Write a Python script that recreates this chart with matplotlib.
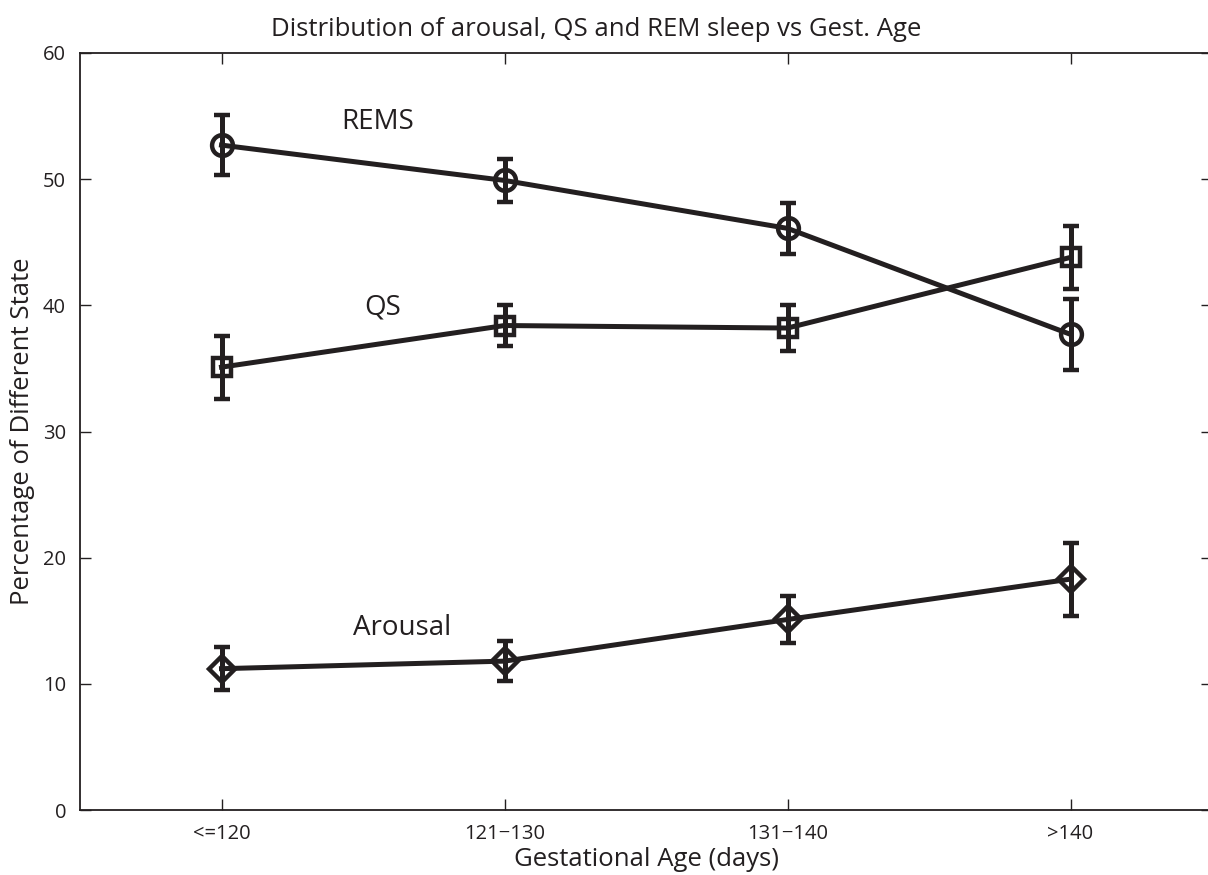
import matplotlib
matplotlib.use("Agg")
import matplotlib.pyplot as plt

plt.rcParams['font.family'] = ['Open Sans', 'DejaVu Sans']

ages = ['<=120', '121\u2212130', '131\u2212140', '>140']
x = [1, 2, 3, 4]

rems_mean = [52.7, 49.9, 46.1, 37.7]
rems_err = [2.4, 1.7, 2.0, 2.8]
qs_mean = [35.1, 38.4, 38.2, 43.8]
qs_err = [2.5, 1.6, 1.8, 2.5]
arousal_mean = [11.2, 11.8, 15.1, 18.3]
arousal_err = [1.7, 1.6, 1.9, 2.9]

ink = '#231f20'

fig = plt.figure(figsize=(12.08, 8.75), dpi=100)
ax = fig.add_axes([80 / 1208, 65 / 875, 1132 / 1208, 757 / 875])

style = dict(color=ink, lw=3.6, elinewidth=3.6, capsize=6, capthick=3.6,
             markerfacecolor='none', markeredgecolor=ink, markeredgewidth=3.2)
ax.errorbar(x, rems_mean, yerr=rems_err, marker='o', markersize=15, **style)
ax.errorbar(x, qs_mean, yerr=qs_err, marker='s', markersize=13, **style)
ax.errorbar(x, arousal_mean, yerr=arousal_err, marker='D', markersize=13.5, **style)

# series labels next to the first segment of each curve
ax.text(1.55, 54.5, 'REMS', fontsize=20, color=ink, ha='center', va='center')
ax.text(1.57, 39.8, 'QS', fontsize=20, color=ink, ha='center', va='center')
ax.text(1.64, 14.4, 'Arousal', fontsize=20, color=ink, ha='center', va='center')

ax.set_xlim(0.5, 4.5)
ax.set_ylim(0, 60)
ax.set_xticks(x)
ax.set_xticklabels(ages)
ax.set_yticks(range(0, 61, 10))
ax.tick_params(direction='in', length=8, width=1, top=True, right=True,
               labelsize=14.5, colors=ink, pad=10)
for s in ax.spines.values():
    s.set_linewidth(1.3)
    s.set_color(ink)

ax.set_xlabel('Gestational Age (days)', fontsize=18.5, color=ink, labelpad=2)
ax.set_ylabel('Percentage of Different State', fontsize=18.5, color=ink, labelpad=6)
fig.text(596 / 1208, 1 - 30 / 875, 'Distribution of arousal, QS and REM sleep vs Gest. Age',
         fontsize=18.5, color=ink, ha='center', va='center')

fig.savefig('out.png', dpi=100)
